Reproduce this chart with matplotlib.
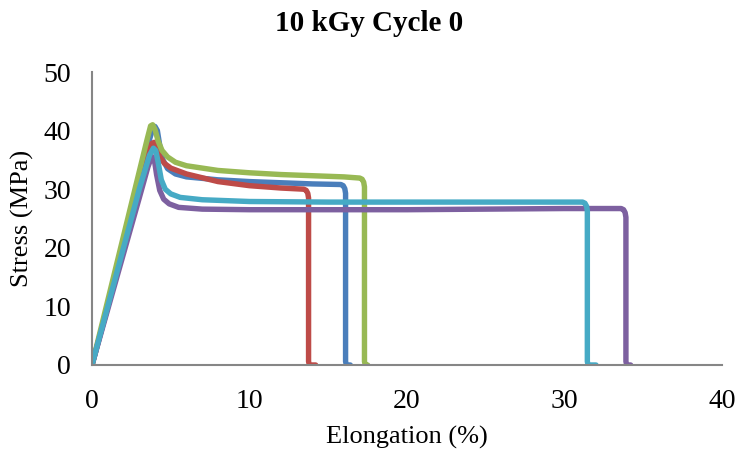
import matplotlib
matplotlib.use("Agg")
import matplotlib.pyplot as plt

# Stress–strain curves, five specimens (elongation %, stress MPa)
blue_x = [0, 1, 2, 3, 3.6, 3.85, 4.0, 4.15, 4.3, 4.5, 4.8, 5.3, 6, 8, 10, 12, 14, 15.8, 15.95, 16.05, 16.1, 16.1, 16.15, 16.4]
blue_y = [0, 10, 20.5, 31, 38, 40.3, 40.7, 40.0, 37.5, 35, 33.5, 32.6, 32.1, 31.6, 31.3, 31.1, 30.9, 30.8, 30.6, 30.1, 29.3, 0.6, 0, 0]

red_x = [0, 1, 2, 3, 3.55, 3.8, 3.95, 4.1, 4.3, 4.6, 5, 6, 8, 10, 12, 13.45, 13.6, 13.7, 13.75, 13.75, 13.8, 14.2]
red_y = [0, 10, 20, 30, 36, 37.8, 38.0, 37.2, 35.6, 34.4, 33.6, 32.6, 31.3, 30.6, 30.2, 30.0, 29.8, 29.3, 28.5, 0.6, 0, 0]

green_x = [0, 1, 2, 3, 3.5, 3.72, 3.85, 4.0, 4.2, 4.45, 4.8, 5.3, 6, 8, 10, 12, 14, 16, 17.0, 17.15, 17.25, 17.3, 17.3, 17.35, 17.5]
green_y = [0, 11, 22, 33, 38.5, 40.8, 41.0, 40.2, 38.2, 36.6, 35.5, 34.6, 34.0, 33.2, 32.8, 32.5, 32.3, 32.1, 31.9, 31.7, 31.2, 30.4, 0.6, 0, 0]

purple_x = [0, 1, 2, 3, 3.55, 3.8, 3.95, 4.1, 4.3, 4.55, 4.9, 5.5, 7, 10, 15, 20, 25, 30, 33.6, 33.75, 33.85, 33.9, 33.9, 33.95, 34.2]
purple_y = [0, 9.5, 19, 28.5, 33.8, 35.6, 35.2, 32.5, 29.8, 28.3, 27.5, 26.9, 26.6, 26.5, 26.5, 26.5, 26.6, 26.7, 26.7, 26.5, 26.0, 25.2, 0.6, 0, 0]

cyan_x = [0, 1, 2, 3, 3.65, 3.9, 4.05, 4.2, 4.4, 4.65, 5.0, 5.6, 7, 10, 15, 20, 25, 30, 31.15, 31.3, 31.4, 31.45, 31.45, 31.5, 32.0]
cyan_y = [0, 10, 20, 30, 35.8, 37.0, 36.6, 34.6, 31.6, 30.0, 29.2, 28.6, 28.2, 27.9, 27.8, 27.8, 27.8, 27.8, 27.8, 27.6, 27.1, 26.3, 0.6, 0, 0]

series = [
    (blue_x, blue_y, "#4A7EBB"),
    (red_x, red_y, "#BE4B48"),
    (green_x, green_y, "#98B954"),
    (purple_x, purple_y, "#7D60A0"),
    (cyan_x, cyan_y, "#46AAC5"),
]

x_ticks = [0, 10, 20, 30, 40]
y_ticks = [0, 10, 20, 30, 40, 50]

plt.rcParams["font.family"] = ["Liberation Serif", "DejaVu Serif"]

fig = plt.figure(figsize=(7.38, 4.54), dpi=100)
ax = fig.add_axes([92 / 738, 1 - 365 / 454, 630 / 738, 293 / 454])

for xs, ys, c in series:
    ax.plot(xs, ys, color=c, linewidth=3.9, solid_joinstyle="round", solid_capstyle="round")

ax.set_xlim(0, 40)
ax.set_ylim(0, 50)
ax.set_xticks(x_ticks)
ax.set_yticks(y_ticks)
ax.tick_params(length=0, labelsize=20)
ax.tick_params(axis="x", pad=17)
ax.tick_params(axis="y", pad=15)

for side in ("top", "right"):
    ax.spines[side].set_visible(False)
for side in ("left", "bottom"):
    ax.spines[side].set_color("#868686")
    ax.spines[side].set_linewidth(1.5)

ax.set_xlabel("Elongation (%)", fontsize=19, va="center")
ax.xaxis.set_label_coords(0.5, -(437 - 365) / 293)
ax.set_ylabel("Stress (MPa)", fontsize=19, va="center")
ax.yaxis.set_label_coords(-(92 - 22) / 630, 0.5)
fig.suptitle("10 kGy Cycle 0", fontsize=21, fontweight="bold", y=0.978)

fig.savefig("out.png", dpi=100)
